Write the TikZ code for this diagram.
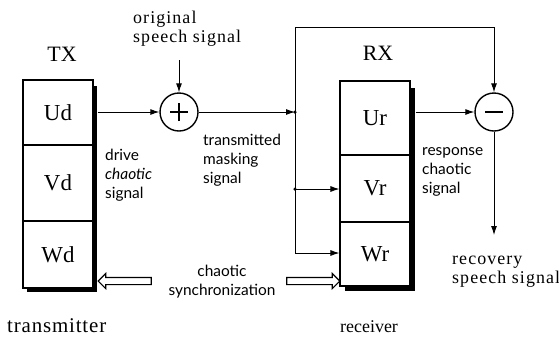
\documentclass[tikz,border=0pt]{standalone}
\usepackage{fontspec}
\setmainfont{Liberation Serif}
\setsansfont{Lato}
\usetikzlibrary{arrows.meta,shapes.arrows}
\begin{document}
\begin{tikzpicture}[x=1bp,y=-1bp,
  cell/.style={draw, line width=1.1bp, fill=white, minimum width=70bp, inner sep=0, font=\fontsize{23}{23}\selectfont},
  arr/.style={-{Latex[length=9bp,width=6bp]}, line width=0.9bp},
  line/.style={line width=0.9bp},
  sumnode/.style={circle, draw, line width=1.4bp, minimum size=38bp, inner sep=0},
  lbl/.style={font=\fontsize{18}{19}\selectfont\addfontfeature{LetterSpace=6}, align=left, inner sep=0, anchor=base west},
  slbl/.style={font=\sffamily\fontsize{15.5}{19}\selectfont, align=left, inner sep=0, anchor=base west},
  hollow/.style={single arrow, draw, line width=1.1bp, minimum height=53bp, minimum width=15bp, single arrow head extend=4bp, inner sep=3bp},
  dot/.style={circle, fill, inner sep=0, minimum size=3.5bp}
]
\useasboundingbox (0,0) rectangle (559,336);
% transmitter
\fill (27,86) rectangle (97,292);
\node[cell, minimum height=65bp] (ud) at (58,112.5) {Ud};
\node[cell, minimum height=76bp] (vd) at (58,183) {Vd};
\node[cell, minimum height=67bp] (wd) at (58,254.5) {Wd};
% receiver
\fill (345,88) rectangle (415,291);
\node[cell, minimum height=74bp] (ur) at (375,118) {Ur};
\node[cell, minimum height=67bp] (vr) at (375,188.5) {Vr};
\node[cell, minimum height=64bp] (wr) at (375,254) {Wr};
% titles
\node[font=\fontsize{22}{22}\selectfont] (tx) at (62,54) {TX};
\node[font=\fontsize{22}{22}\selectfont] (rx) at (378,53) {RX};
% summing junctions
\node[sumnode] (plus) at (179,112) {};
\draw[line width=1.2bp] ([xshift=-9bp]plus.center) -- ([xshift=9bp]plus.center);
\draw[line width=1.2bp] ([yshift=-9bp]plus.center) -- ([yshift=9bp]plus.center);
\node[sumnode] (minus) at (494,112) {};
\draw[line width=1.4bp] ([xshift=-9bp]minus.center) -- ([xshift=9bp]minus.center);
% coordinates
\coordinate (txs) at ([xshift=4bp]ud.east);
\coordinate (rxs) at ([xshift=5bp]ur.east);
\coordinate (in) at (179,60);
\coordinate (j1) at (295,112);
\coordinate (jt) at (295,27);
\coordinate (jv) at (295,189);
\coordinate (jb) at (295,253);
\coordinate (out) at (494,235);
% connectors
\draw[arr] (in) -- (plus.north);
\draw[arr] (txs |- plus.west) -- (plus.west);
\draw[arr] (plus.east) -- (j1);
\draw[arr] (j1) -- (jt) -| (minus.north);
\draw[line] (j1) -- (jb);
\draw[arr] (jv) -- (vr.west |- jv);
\draw[arr] (jb) -- (wr.west |- jb);
\draw[arr] (rxs |- minus.west) -- (minus.west);
\draw[arr] (minus.south) -- (out);
\node[dot] at (j1) {};
\node[dot] at (jv) {};
% labels (anchored at the baseline of the last line)
\node[lbl] (orig) at (133,42) {original\\speech signal};
\node[slbl] (drive) at (105,198) {drive\\\textit{chaotic}\\signal};
\node[slbl] (tmask) at (203,183) {transmitted\\masking\\signal};
\node[slbl] (resp) at (422,193) {response\\chaotic\\signal};
\node[lbl] (recov) at (452,283) {recovery\\speech signal};
\node[slbl, align=center, anchor=base] (sync) at (222,295) {chaotic\\synchronization};
\node[lbl, font=\fontsize{21}{21}\selectfont\addfontfeature{LetterSpace=4}] (tmt) at (7,332) {transmitter};
\node[lbl, font=\fontsize{18}{18}\selectfont] (rcv) at (340,332) {receiver};
% hollow arrows
\node[hollow, shape border rotate=180] (la) at (126.5,281) {};
\node[hollow] (ra) at (311.5,281) {};
\end{tikzpicture}
\end{document}
